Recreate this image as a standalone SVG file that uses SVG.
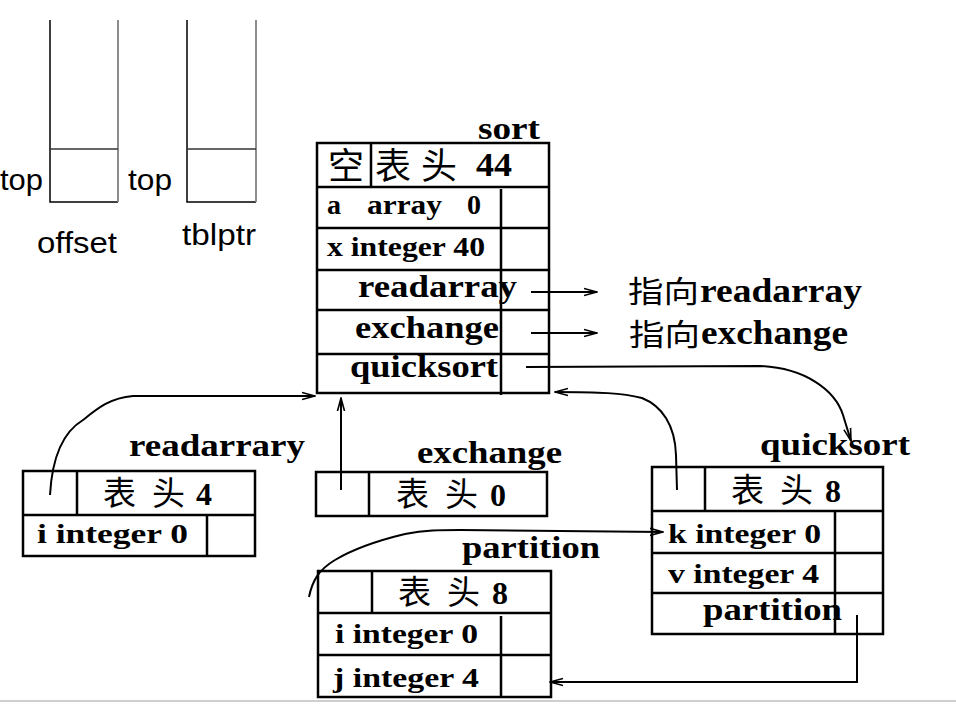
<svg xmlns="http://www.w3.org/2000/svg" width="956" height="704" viewBox="0 0 956 704">
<style>
.tb{fill:none;stroke:#000;stroke-width:2.5}
.ln{stroke:#000;stroke-width:2.5;fill:none}
.cn{stroke:#000;stroke-width:2;fill:none}
.sn{font-family:"Liberation Sans","Noto Sans",sans-serif;font-size:30px;fill:#000}
.bs{font-family:"Liberation Serif","Noto Sans CJK SC",serif;font-weight:bold;fill:#000}
.cj{font-family:"Noto Sans CJK SC","Noto Sans CJK JP",sans-serif;fill:#000}
</style>
<defs>
<marker id="ah" viewBox="0 0 14 10" refX="13" refY="5" markerWidth="14" markerHeight="10" markerUnits="userSpaceOnUse" orient="auto">
<path d="M0,1.5 L13,5 L0,8.5" fill="none" stroke="#000" stroke-width="1.6"/>
</marker>
</defs>
<rect width="956" height="704" fill="#fff"/>
<line x1="0" y1="701" x2="956" y2="701" stroke="#cfcfcf" stroke-width="2"/>

<g id="stack-offset">
<path d="M50,20 V202 H118" fill="none" stroke="#000" stroke-width="1.5"/>
<line x1="118" y1="20" x2="118" y2="202" stroke="#808080" stroke-width="1.8"/>
<line x1="50" y1="149" x2="118" y2="149" stroke="#333" stroke-width="1.5"/>
<text class="sn" x="0" y="190" textLength="43" lengthAdjust="spacingAndGlyphs">top</text>
<text class="sn" x="37" y="253" textLength="80" lengthAdjust="spacingAndGlyphs">offset</text>
</g>
<g id="stack-tblptr">
<path d="M187,20 V202 H256" fill="none" stroke="#000" stroke-width="1.5"/>
<line x1="256" y1="20" x2="256" y2="202" stroke="#808080" stroke-width="1.8"/>
<line x1="187" y1="149" x2="256" y2="149" stroke="#333" stroke-width="1.5"/>
<text class="sn" x="128" y="190" textLength="44" lengthAdjust="spacingAndGlyphs">top</text>
<text class="sn" x="182" y="245" textLength="74" lengthAdjust="spacingAndGlyphs">tblptr</text>
</g>

<g id="sort">
<rect class="tb" x="317" y="143" width="232" height="250"/>
<path class="ln" d="M317,187 H549 M317,228 H549 M317,270 H549 M317,310 H549 M317,354 H549 M371,143 V187 M501,189 V395"/>
<text class="bs" x="478" y="139" font-size="32" textLength="62" lengthAdjust="spacingAndGlyphs">sort</text>
<text class="cj" x="328" y="179" font-size="36">空</text>
<text class="cj" x="375" y="179" font-size="36">表</text>
<text class="cj" x="421" y="179" font-size="36">头</text>
<text class="bs" x="476" y="176" font-size="34" textLength="36" lengthAdjust="spacingAndGlyphs">44</text>
<text class="bs" x="327" y="214" font-size="28">a</text>
<text class="bs" x="367" y="214" font-size="28" textLength="75" lengthAdjust="spacingAndGlyphs">array</text>
<text class="bs" x="467" y="214" font-size="28">0</text>
<text class="bs" x="327" y="256" font-size="28" textLength="158" lengthAdjust="spacingAndGlyphs">x integer 40</text>
<text class="bs" x="358" y="297" font-size="32" textLength="159" lengthAdjust="spacingAndGlyphs">readarray</text>
<text class="bs" x="355" y="338" font-size="32" textLength="144" lengthAdjust="spacingAndGlyphs">exchange</text>
<text class="bs" x="350" y="377" font-size="32" textLength="148" lengthAdjust="spacingAndGlyphs">quicksort</text>
</g>

<g id="note-readarray">
<text class="cj" x="628" y="302" font-size="30" textLength="71" lengthAdjust="spacingAndGlyphs">指向</text>
<text class="bs" x="700" y="302" font-size="34" textLength="162" lengthAdjust="spacingAndGlyphs">readarray</text>
</g>
<g id="note-exchange">
<text class="cj" x="629" y="345" font-size="30" textLength="71" lengthAdjust="spacingAndGlyphs">指向</text>
<text class="bs" x="701" y="344" font-size="34" textLength="147" lengthAdjust="spacingAndGlyphs">exchange</text>
</g>

<g id="readarrary">
<rect class="tb" x="23" y="471" width="232" height="85"/>
<path class="ln" d="M23,515 H255 M77,471 V515 M207,515 V556"/>
<text class="bs" x="129" y="456" font-size="32" textLength="176" lengthAdjust="spacingAndGlyphs">readarrary</text>
<text class="cj" x="103" y="505" font-size="33">表</text>
<text class="cj" x="152" y="505" font-size="33">头</text>
<text class="bs" x="196" y="505" font-size="32">4</text>
<text class="bs" x="37" y="543" font-size="28" textLength="151" lengthAdjust="spacingAndGlyphs">i  integer  0</text>
</g>

<g id="exchange">
<rect class="tb" x="316" y="472" width="231" height="44"/>
<path class="ln" d="M369,472 V516"/>
<text class="bs" x="417" y="463" font-size="32" textLength="145" lengthAdjust="spacingAndGlyphs">exchange</text>
<text class="cj" x="396" y="506" font-size="33">表</text>
<text class="cj" x="445" y="506" font-size="33">头</text>
<text class="bs" x="490" y="506" font-size="32">0</text>
</g>

<g id="partition">
<rect class="tb" x="318" y="571" width="233" height="126"/>
<path class="ln" d="M318,613 H551 M318,655 H551 M372,571 V613 M501,616 V697"/>
<text class="bs" x="462" y="558" font-size="32" textLength="138" lengthAdjust="spacingAndGlyphs">partition</text>
<text class="cj" x="398" y="604" font-size="33">表</text>
<text class="cj" x="447" y="604" font-size="33">头</text>
<text class="bs" x="492" y="604" font-size="32">8</text>
<text class="bs" x="335" y="643" font-size="28" textLength="143" lengthAdjust="spacingAndGlyphs">i integer  0</text>
<text class="bs" x="333" y="687" font-size="28" textLength="146" lengthAdjust="spacingAndGlyphs">j integer  4</text>
</g>

<g id="quicksort">
<rect class="tb" x="652" y="467" width="231" height="167"/>
<path class="ln" d="M652,511 H883 M652,553 H883 M652,593 H883 M705,467 V511 M835,511 V634"/>
<text class="bs" x="760" y="455" font-size="32" textLength="150" lengthAdjust="spacingAndGlyphs">quicksort</text>
<text class="cj" x="731" y="502" font-size="33">表</text>
<text class="cj" x="780" y="502" font-size="33">头</text>
<text class="bs" x="825" y="502" font-size="32">8</text>
<text class="bs" x="668" y="543" font-size="28" textLength="153" lengthAdjust="spacingAndGlyphs">k integer  0</text>
<text class="bs" x="668" y="583" font-size="28" textLength="151" lengthAdjust="spacingAndGlyphs">v integer  4</text>
<text class="bs" x="703" y="620" font-size="32" textLength="139" lengthAdjust="spacingAndGlyphs">partition</text>
</g>

<g id="connectors">
<path class="cn" d="M531,292 H597" marker-end="url(#ah)"/>
<path class="cn" d="M531,333 H597" marker-end="url(#ah)"/>
<path class="cn" d="M526,367 L760,366 C805,368 835,390 843,415 L851,441" marker-end="url(#ah)"/>
<path class="cn" d="M677,490 L676,455 C675,425 662,406 642,398 C622,393 600,392 555,392" marker-end="url(#ah)"/>
<path class="cn" d="M50,495 C52,458 63,432 83,420 C98,408 110,398 133,396 L315,396" marker-end="url(#ah)"/>
<path class="cn" d="M341,490 V398" marker-end="url(#ah)"/>
<path class="cn" d="M309,597 C312,582 318,570 335,560 C355,548 380,540 405,534 C425,530 440,530 460,530 L663,532" marker-end="url(#ah)"/>
<path class="cn" d="M857,615 V682 H550" marker-end="url(#ah)"/>
</g>
</svg>
